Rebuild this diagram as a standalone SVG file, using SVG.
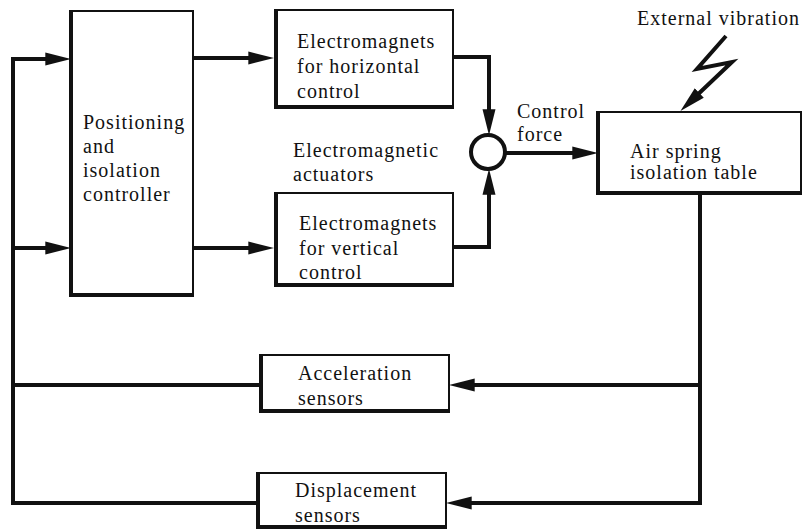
<svg xmlns="http://www.w3.org/2000/svg" width="803" height="531" viewBox="0 0 803 531">
<defs>
<style>
.box{fill:#fff;stroke:#111;stroke-width:2}
.sh{fill:none;stroke:#111;stroke-width:4;stroke-linejoin:miter}
.ln{fill:none;stroke:#111;stroke-width:4;stroke-linejoin:miter}
.t{font-family:"Liberation Serif","Times New Roman",serif;font-size:20px;letter-spacing:1px;fill:#111}
</style>
<marker id="ah" markerUnits="userSpaceOnUse" markerWidth="26" markerHeight="14" viewBox="0 0 24 12" refX="8" refY="6" orient="auto">
<path d="M0,0 L24,6 L0,12 z" fill="#111"/>
</marker>
</defs>
<rect width="803" height="531" fill="#fff"/>
<g id="connectors">
<path class="ln" d="M13 57 V503 H257"/>
<path class="ln" d="M13 385 H260"/>
<path class="ln" d="M13 59 H54" marker-end="url(#ah)"/>
<path class="ln" d="M13 248 H54" marker-end="url(#ah)"/>
<path class="ln" d="M193 58 H257" marker-end="url(#ah)"/>
<path class="ln" d="M193 248 H257" marker-end="url(#ah)"/>
<path class="ln" d="M453 57 H489 V118" marker-end="url(#ah)"/>
<path class="ln" d="M453 247 H489 V186" marker-end="url(#ah)"/>
<path class="ln" d="M506 153 H581" marker-end="url(#ah)"/>
<path class="ln" d="M700 194 V503 H463" marker-end="url(#ah)"/>
<path class="ln" d="M700 385 H466" marker-end="url(#ah)"/>
<path class="ln" d="M726 36 L697 69 L732 62 L693 99" stroke-width="5" marker-end="url(#ah)"/>
</g>
<g id="controller">
<rect class="box" x="70" y="11" width="123" height="285"/>
<path class="sh" d="M71 11 V295 H193"/>
<text class="t" x="83" y="129">Positioning</text>
<text class="t" x="83" y="153">and</text>
<text class="t" x="83" y="177">isolation</text>
<text class="t" x="83" y="201">controller</text>
</g>
<g id="em-horizontal">
<rect class="box" x="275" y="10" width="178" height="98"/>
<path class="sh" d="M276 10 V107 H453"/>
<text class="t" x="297" y="48">Electromagnets</text>
<text class="t" x="297" y="73">for horizontal</text>
<text class="t" x="297" y="98">control</text>
</g>
<g id="em-vertical">
<rect class="box" x="275" y="193" width="178" height="93"/>
<path class="sh" d="M276 193 V285 H453"/>
<text class="t" x="299" y="230">Electromagnets</text>
<text class="t" x="299" y="255">for vertical</text>
<text class="t" x="299" y="279">control</text>
</g>
<g id="actuators-label">
<text class="t" x="293" y="157">Electromagnetic</text>
<text class="t" x="293" y="181">actuators</text>
</g>
<g id="sum">
<circle cx="488" cy="152" r="17" fill="#fff" stroke="#111" stroke-width="4"/>
</g>
<g id="control-force-label">
<text class="t" x="517" y="118">Control</text>
<text class="t" x="517" y="141">force</text>
</g>
<g id="air-spring">
<rect class="box" x="597" y="112" width="204" height="82"/>
<path class="sh" d="M598 112 V193 H801"/>
<text class="t" x="630" y="158">Air spring</text>
<text class="t" x="630" y="179">isolation table</text>
</g>
<g id="external-vibration">
<text class="t" x="637" y="25">External vibration</text>
</g>
<g id="acc-sensors">
<rect class="box" x="260" y="355" width="189" height="57"/>
<path class="sh" d="M261 355 V411 H449"/>
<text class="t" x="298" y="380">Acceleration</text>
<text class="t" x="298" y="405">sensors</text>
</g>
<g id="disp-sensors">
<rect class="box" x="257" y="473" width="189" height="55"/>
<path class="sh" d="M258 473 V527 H446"/>
<text class="t" x="295" y="497">Displacement</text>
<text class="t" x="295" y="522">sensors</text>
</g>
</svg>
